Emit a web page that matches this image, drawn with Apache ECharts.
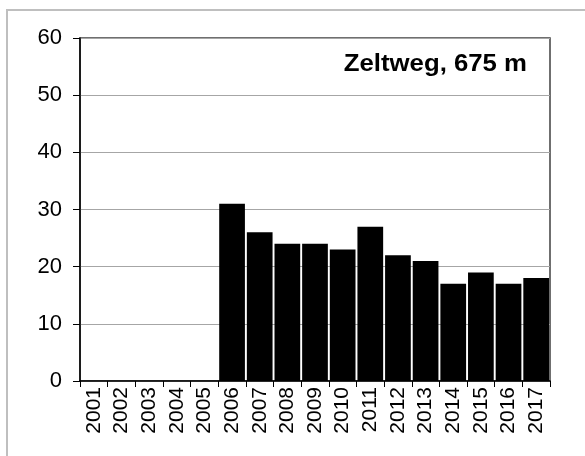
<!DOCTYPE html>
<html>
<head>
<meta charset="utf-8">
<script src="https://cdn.jsdelivr.net/npm/echarts@6/dist/echarts.min.js"></script>
<style>
  html, body { margin: 0; padding: 0; background: #fff; }
  #chart { width: 585px; height: 456px; }
</style>
</head>
<body>
<div id="chart"></div>
<script>
// Jahre und Werte
var years = ['2001','2002','2003','2004','2005','2006','2007','2008','2009','2010','2011','2012','2013','2014','2015','2016','2017'];
var values = [null, null, null, null, null, 31, 26, 24, 24, 23, 27, 22, 21, 17, 19, 17, 18];
var yTicks = [0, 10, 20, 30, 40, 50, 60];
var stationName = 'Zeltweg, 675 m';

var chart = echarts.init(document.getElementById('chart'));

var option = {
    animation: false,
    backgroundColor: '#fff',
    textStyle: { fontFamily: '"Liberation Sans", Arial, sans-serif' },
    graphic: [{
        type: 'rect',
        shape: { x: 7, y: 10, width: 600, height: 480 },
        style: { fill: 'none', stroke: '#bfbfbf', lineWidth: 2 },
        silent: true
    }, {
        type: 'text',
        right: 58,
        top: 53,
        scaleX: 1.12,
        style: {
            text: stationName,
            fill: '#000',
            font: 'bold 23px "Liberation Sans", Arial, sans-serif'
        }
    }],
    grid: {
        left: 80,
        right: 35,
        top: 38,
        bottom: 75,
        show: true,
        borderColor: '#404040',
        borderWidth: 1.5
    },
    xAxis: {
        type: 'category',
        data: years,
        axisLine: { lineStyle: { color: '#000', width: 1.5 } },
        axisTick: { show: true, length: 6, lineStyle: { color: '#000' } },
        axisLabel: {
            rotate: 90,
            fontSize: 21,
            color: '#000',
            margin: 6,
            interval: 0
        }
    },
    yAxis: {
        type: 'value',
        min: yTicks[0],
        max: yTicks[yTicks.length - 1],
        interval: 10,
        axisLine: { show: true, lineStyle: { color: '#000', width: 1.5 } },
        axisTick: { show: true, length: 7, lineStyle: { color: '#000' } },
        axisLabel: { fontSize: 22, color: '#000', margin: 18 },
        splitLine: { lineStyle: { color: '#a6a6a6', width: 1 } }
    },
    series: [{
        type: 'bar',
        data: values,
        barCategoryGap: '7%',
        itemStyle: { color: '#000' }
    }]
};

chart.setOption(option);
</script>
</body>
</html>
